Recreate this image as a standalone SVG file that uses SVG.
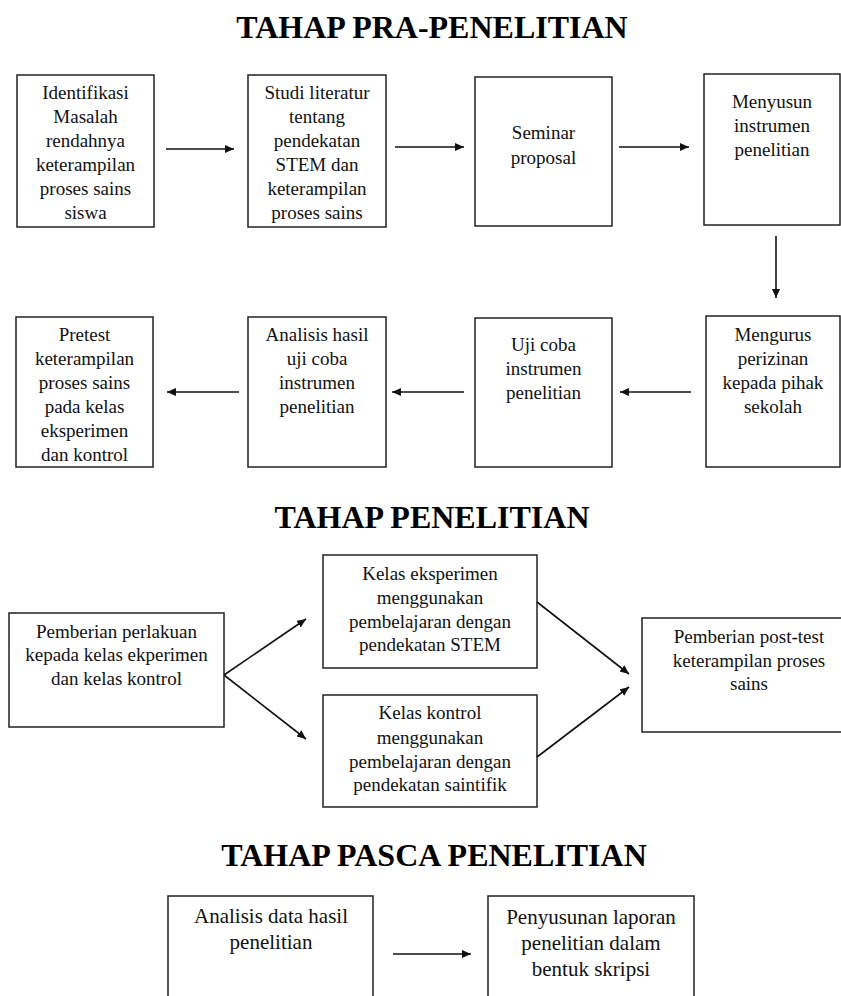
<svg xmlns="http://www.w3.org/2000/svg" width="841" height="996" viewBox="0 0 841 996">
<defs>
<style>
.box{fill:#fff;stroke:#222;stroke-width:1.5}
.t{font-family:"Liberation Serif","Times New Roman",serif;font-size:19px;fill:#111;text-anchor:middle}
.tb{font-size:21px}
.h{font-family:"Liberation Serif","Times New Roman",serif;font-size:32px;font-weight:bold;fill:#000;text-anchor:middle}
.c{stroke:#111;stroke-width:1.6;fill:none;marker-end:url(#ah)}
</style>
<marker id="ah" markerUnits="userSpaceOnUse" markerWidth="10" markerHeight="10" refX="9" refY="4" orient="auto">
<path d="M0,0 L9,4 L0,8 Z" fill="#111"/>
</marker>
</defs>
<rect width="841" height="996" fill="#fff"/>
<text class="h" x="432" y="38">TAHAP PRA-PENELITIAN</text>
<text class="h" x="432" y="528">TAHAP PENELITIAN</text>
<text class="h" x="434" y="866">TAHAP PASCA PENELITIAN</text>

<g id="n1"><rect class="box" x="17" y="75" width="137" height="152"/>
<text class="t" x="85.5" y="99">Identifikasi</text><text class="t" x="85.5" y="123">Masalah</text><text class="t" x="85.5" y="147">rendahnya</text><text class="t" x="85.5" y="171">keterampilan</text><text class="t" x="85.5" y="195">proses sains</text><text class="t" x="85.5" y="219">siswa</text></g>
<g id="n2"><rect class="box" x="248" y="75" width="138" height="152"/>
<text class="t" x="317" y="99">Studi literatur</text><text class="t" x="317" y="123">tentang</text><text class="t" x="317" y="147">pendekatan</text><text class="t" x="317" y="171">STEM dan</text><text class="t" x="317" y="195">keterampilan</text><text class="t" x="317" y="219">proses sains</text></g>
<g id="n3"><rect class="box" x="475" y="77" width="137" height="149"/>
<text class="t" x="543.5" y="139">Seminar</text><text class="t" x="543.5" y="164">proposal</text></g>
<g id="n4"><rect class="box" x="704" y="74" width="136" height="151"/>
<text class="t" x="772" y="108">Menyusun</text><text class="t" x="772" y="132">instrumen</text><text class="t" x="772" y="156">penelitian</text></g>

<g id="n5"><rect class="box" x="706" y="316" width="134" height="151"/>
<text class="t" x="773" y="341">Mengurus</text><text class="t" x="773" y="365">perizinan</text><text class="t" x="773" y="389">kepada pihak</text><text class="t" x="773" y="413">sekolah</text></g>
<g id="n6"><rect class="box" x="475" y="318" width="137" height="149"/>
<text class="t" x="543.5" y="351">Uji coba</text><text class="t" x="543.5" y="375">instrumen</text><text class="t" x="543.5" y="399">penelitian</text></g>
<g id="n7"><rect class="box" x="248" y="317" width="138" height="150"/>
<text class="t" x="317" y="341">Analisis hasil</text><text class="t" x="317" y="365">uji coba</text><text class="t" x="317" y="389">instrumen</text><text class="t" x="317" y="413">penelitian</text></g>
<g id="n8"><rect class="box" x="16" y="317" width="137" height="150"/>
<text class="t" x="84.5" y="341">Pretest</text><text class="t" x="84.5" y="365">keterampilan</text><text class="t" x="84.5" y="389">proses sains</text><text class="t" x="84.5" y="413">pada kelas</text><text class="t" x="84.5" y="437">eksperimen</text><text class="t" x="84.5" y="461">dan kontrol</text></g>

<g id="n9"><rect class="box" x="9" y="613" width="215" height="114"/>
<text class="t" x="116.5" y="638">Pemberian perlakuan</text><text class="t" x="116.5" y="661">kepada kelas ekperimen</text><text class="t" x="116.5" y="685">dan kelas kontrol</text></g>
<g id="n10"><rect class="box" x="323" y="555" width="214" height="113"/>
<text class="t" x="430" y="580">Kelas eksperimen</text><text class="t" x="430" y="604">menggunakan</text><text class="t" x="430" y="628">pembelajaran dengan</text><text class="t" x="430" y="651">pendekatan STEM</text></g>
<g id="n11"><rect class="box" x="323" y="695" width="214" height="112"/>
<text class="t" x="430" y="719">Kelas kontrol</text><text class="t" x="430" y="744">menggunakan</text><text class="t" x="430" y="768">pembelajaran dengan</text><text class="t" x="430" y="791">pendekatan saintifik</text></g>
<g id="n12"><rect class="box" x="642" y="618" width="210" height="114"/>
<text class="t" x="749" y="643">Pemberian post-test</text><text class="t" x="749" y="667">keterampilan proses</text><text class="t" x="749" y="690">sains</text></g>

<g id="n13"><rect class="box" x="168" y="896" width="205" height="120"/>
<text class="t tb" x="271" y="923">Analisis data hasil</text><text class="t tb" x="271" y="949">penelitian</text></g>
<g id="n14"><rect class="box" x="488" y="896" width="206" height="120"/>
<text class="t tb" x="591" y="924">Penyusunan laporan</text><text class="t tb" x="591" y="950">penelitian dalam</text><text class="t tb" x="591" y="976">bentuk skripsi</text></g>

<g id="connectors">
<line class="c" x1="166" y1="149" x2="234" y2="149"/>
<line class="c" x1="395" y1="147" x2="464" y2="147"/>
<line class="c" x1="619" y1="147" x2="689" y2="147"/>
<line class="c" x1="776" y1="236" x2="776" y2="298"/>
<line class="c" x1="691" y1="392" x2="620" y2="392"/>
<line class="c" x1="464" y1="392" x2="392" y2="392"/>
<line class="c" x1="239" y1="392" x2="167" y2="392"/>
<line class="c" x1="224" y1="675" x2="306" y2="619"/>
<line class="c" x1="224" y1="675" x2="306" y2="739"/>
<line class="c" x1="537" y1="602" x2="629" y2="674"/>
<line class="c" x1="537" y1="757" x2="629" y2="687"/>
<line class="c" x1="393" y1="954" x2="471" y2="954"/>
</g>
</svg>
